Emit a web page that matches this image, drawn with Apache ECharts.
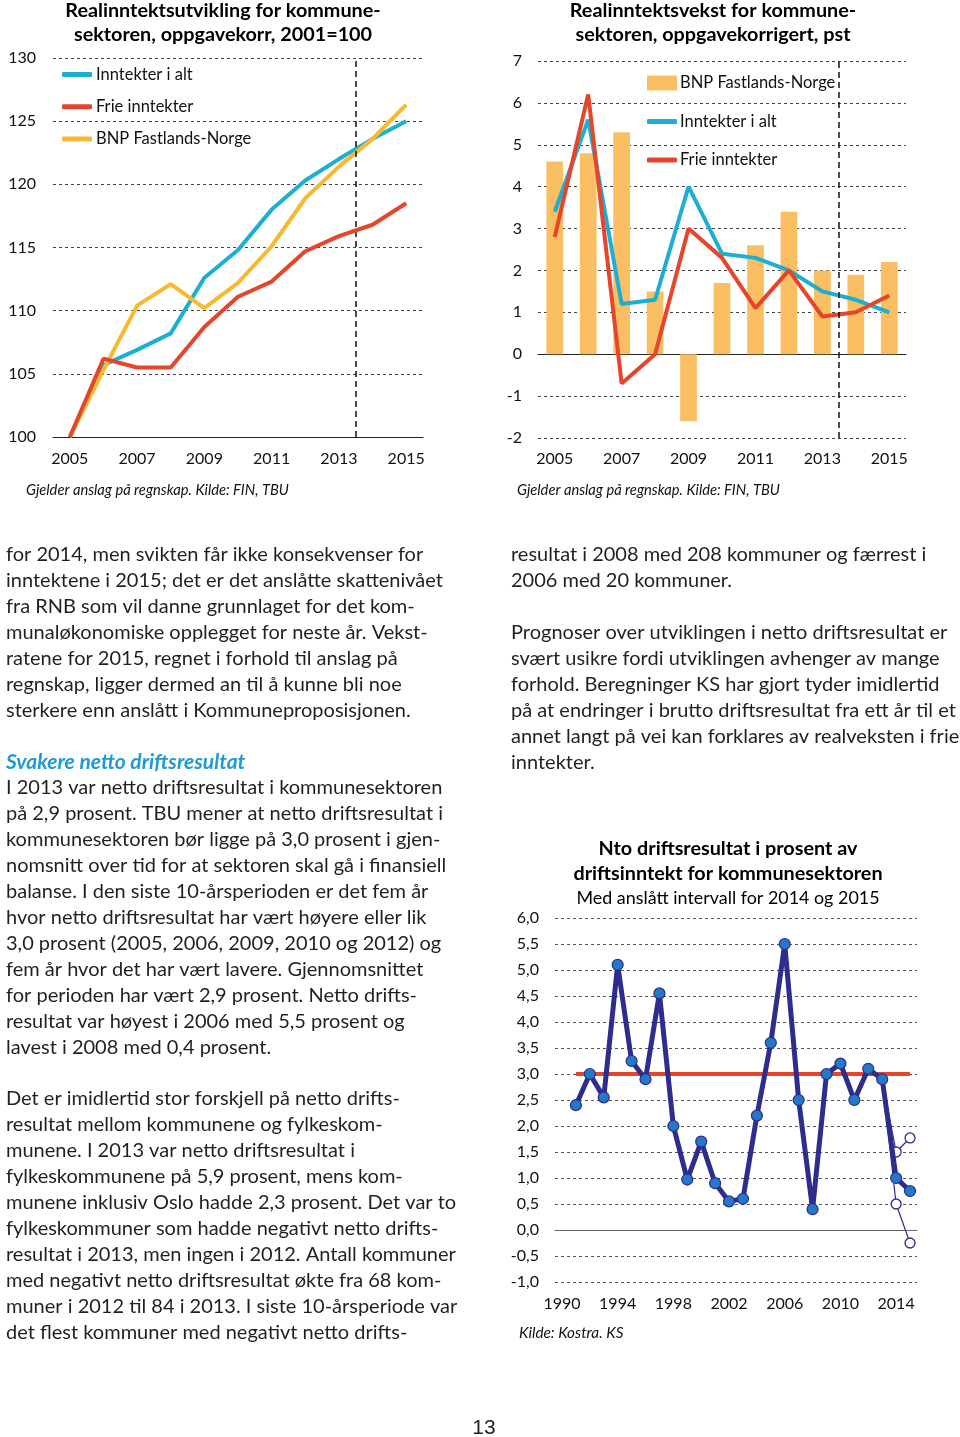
<!DOCTYPE html>
<html><head><meta charset="utf-8">
<script src="https://cdn.jsdelivr.net/npm/echarts@6/dist/echarts.min.js"></script>
<style>html,body{margin:0;padding:0;background:#fff}#c{width:960px;height:1437px}</style>
</head><body><div id="c"></div>
<script>
// ---------- DATA ----------
const years1 = ['2005','2006','2007','2008','2009','2010','2011','2012','2013','2014','2015'];
const inntekterIndex = [100, 105.7, 106.9, 108.2, 112.6, 114.8, 118.0, 120.3, 122.0, 123.6, 125.0];
const frieIndex      = [100, 106.2, 105.5, 105.5, 108.7, 111.1, 112.3, 114.7, 115.9, 116.8, 118.5];
const bnpIndex       = [100, 105.3, 110.4, 112.1, 110.2, 112.2, 115.1, 118.9, 121.4, 123.6, 126.3];

const bnpGrowth       = [4.6, 4.8, 5.3, 1.5, -1.6, 1.7, 2.6, 3.4, 2.0, 1.9, 2.2];
const inntekterGrowth = [3.4, 5.6, 1.2, 1.3, 4.0, 2.4, 2.3, 2.0, 1.5, 1.3, 1.0];
const frieGrowth      = [2.8, 6.2, -0.7, 0.0, 3.0, 2.3, 1.1, 2.0, 0.9, 1.0, 1.4];
const lastActualYear = '2013';

const years3 = ['1990','1991','1992','1993','1994','1995','1996','1997','1998','1999','2000','2001','2002',
  '2003','2004','2005','2006','2007','2008','2009','2010','2011','2012','2013','2014','2015'];
const nettoDrift = [null, 2.4, 3.0, 2.55, 5.1, 3.25, 2.9, 4.55, 2.0, 0.97, 1.7, 0.9, 0.55, 0.6, 2.2, 3.6, 5.5,
  2.5, 0.4, 3.0, 3.2, 2.5, 3.1, 2.9, 1.0, 0.75];
const intervallHoy = [null,null,null,null,null,null,null,null,null,null,null,null,null,null,null,null,null,
  null,null,null,null,null,null, 2.9, 1.5, 1.77];
const intervallLav = [null,null,null,null,null,null,null,null,null,null,null,null,null,null,null,null,null,
  null,null,null,null,null,null, 2.9, 0.5, -0.25];
const normNivaa = [null, 3,3,3,3,3,3,3,3,3,3,3,3,3,3,3,3,3,3,3,3,3,3,3,3,3];

const title1 = ['Realinntektsutvikling for kommune-', 'sektoren, oppgavekorr, 2001=100'];
const title2 = ['Realinntektsvekst for kommune-', 'sektoren, oppgavekorrigert, pst'];
const title3 = ['Nto driftsresultat i prosent av', 'driftsinntekt for kommunesektoren'];
const subtitle3 = 'Med anslått intervall for 2014 og 2015';
const source12 = 'Gjelder anslag på regnskap. Kilde: FIN, TBU';
const source3 = 'Kilde: Kostra. KS';

const leftPara1 = ['for 2014, men svikten får ikke konsekvenser for',
 'inntektene i 2015; det er det anslåtte skattenivået',
 'fra RNB som vil danne grunnlaget for det kom-',
 'munaløkonomiske opplegget for neste år. Vekst-',
 'ratene for 2015, regnet i forhold til anslag på',
 'regnskap, ligger dermed an til å kunne bli noe',
 'sterkere enn anslått i Kommuneproposisjonen.'];
const heading = 'Svakere netto driftsresultat';
const leftPara2 = ['I 2013 var netto driftsresultat i kommunesektoren',
 'på 2,9 prosent. TBU mener at netto driftsresultat i',
 'kommunesektoren bør ligge på 3,0 prosent i gjen-',
 'nomsnitt over tid for at sektoren skal gå i finansiell',
 'balanse. I den siste 10-årsperioden er det fem år',
 'hvor netto driftsresultat har vært høyere eller lik',
 '3,0 prosent (2005, 2006, 2009, 2010 og 2012) og',
 'fem år hvor det har vært lavere. Gjennomsnittet',
 'for perioden har vært 2,9 prosent. Netto drifts-',
 'resultat var høyest i 2006 med 5,5 prosent og',
 'lavest i 2008 med 0,4 prosent.'];
const leftPara3 = ['Det er imidlertid stor forskjell på netto drifts-',
 'resultat mellom kommunene og fylkeskom-',
 'munene. I 2013 var netto driftsresultat i',
 'fylkeskommunene på 5,9 prosent, mens kom-',
 'munene inklusiv Oslo hadde 2,3 prosent. Det var to',
 'fylkeskommuner som hadde negativt netto drifts-',
 'resultat i 2013, men ingen i 2012. Antall kommuner',
 'med negativt netto driftsresultat økte fra 68 kom-',
 'muner i 2012 til 84 i 2013. I siste 10-årsperiode var',
 'det flest kommuner med negativt netto drifts-'];
const rightPara1 = ['resultat i 2008 med 208 kommuner og færrest i', '2006 med 20 kommuner.'];
const rightPara2 = ['Prognoser over utviklingen i netto driftsresultat er',
 'svært usikre fordi utviklingen avhenger av mange',
 'forhold. Beregninger KS har gjort tyder imidlertid',
 'på at endringer i brutto driftsresultat fra ett år til et',
 'annet langt på vei kan forklares av realveksten i frie',
 'inntekter.'];
const pageNumber = '13';

// ---------- STYLE ----------
const FONT = 'Lato, "Noto Sans", sans-serif';
const C_BLUE = '#1DAFD2', C_RED = '#E5462B', C_YEL = '#F7B92F', C_BAR = '#FBBF63';
const C_NAVY = '#2E2C8C', C_MARK = '#2378C7';
const BODY = 20;
const split = {show:true, lineStyle:{type:[3,3], color:'#444', width:1}};
const noLine = {show:false};
const cut = years1.indexOf(lastActualYear) + 0.5;
const legText = {fontSize:16.5, color:'#111', fontFamily:FONT, padding:[0,0,0,-1]};

function txt(x, y, lines, opt) {
  return Object.assign({type:'text', x:x, y:y, style:Object.assign({
    text: lines.join('\n'), fontFamily: FONT, fontSize: BODY, lineHeight: 26, fill:'#231F20',
    verticalAlign:'top', align:'left'}, opt || {})});
}

const chart = echarts.init(document.getElementById('c'), null, {renderer:'canvas'});
chart.setOption({
  backgroundColor:'#fff',
  animation:false,
  textStyle:{fontFamily:FONT},
  grid:[
    {left:53, top:58, width:370, height:379},
    {left:538, top:61, width:368, height:377},
    {left:555, top:918, width:362, height:364}
  ],
  xAxis:[
    {type:'category', gridIndex:0, data:years1, boundaryGap:true,
     axisLine:{lineStyle:{color:'#222'}}, axisTick:{interval:0, length:6, lineStyle:{color:'#222'}},
     axisLabel:{interval:1, margin:14, fontSize:16, color:'#111', fontFamily:FONT}},
    {type:'value', gridIndex:0, min:-0.5, max:10.5, show:false},
    {type:'category', gridIndex:1, data:years1, boundaryGap:true,
     axisLine:{onZero:true, lineStyle:{color:'#222'}}, axisTick:{interval:0, length:6, lineStyle:{color:'#222'}},
     axisLabel:{show:false}},
    {type:'category', gridIndex:1, data:years1, boundaryGap:true, position:'bottom',
     axisLine:{show:false, onZero:false}, axisTick:{show:false},
     axisLabel:{interval:1, margin:13, fontSize:16, color:'#111', fontFamily:FONT}},
    {type:'value', gridIndex:1, min:-0.5, max:10.5, show:false},
    {type:'category', gridIndex:2, data:years3, boundaryGap:true,
     axisLine:{onZero:true, lineStyle:{color:'#666'}}, axisTick:{interval:0, length:5, lineStyle:{color:'#666'}},
     axisLabel:{show:false}},
    {type:'category', gridIndex:2, data:years3, boundaryGap:true, position:'bottom',
     axisLine:{show:false, onZero:false}, axisTick:{show:false},
     axisLabel:{interval:3, margin:14, fontSize:16, color:'#111', fontFamily:FONT}}
  ],
  yAxis:[
    {type:'value', gridIndex:0, min:100, max:130, interval:5, axisLine:noLine, axisTick:noLine,
     splitLine:split, axisLabel:{margin:17, fontSize:16, color:'#111', fontFamily:FONT}},
    {type:'value', gridIndex:1, min:-2, max:7, interval:1, axisLine:noLine, axisTick:noLine,
     splitLine:split, axisLabel:{margin:16, fontSize:16, color:'#111', fontFamily:FONT}},
    {type:'value', gridIndex:2, min:-1, max:6, interval:0.5, axisLine:noLine, axisTick:noLine,
     splitLine:{show:true, lineStyle:{type:[3,3], color:'#555', width:1}},
     axisLabel:{margin:16, fontSize:16, color:'#111', fontFamily:FONT,
       formatter:v => v.toFixed(1).replace('.', ',')}}
  ],
  legend:[
    {left:62, top:66, padding:0, orient:'vertical', itemWidth:30, itemHeight:5, itemGap:15.3, icon:'roundRect',
     textStyle:legText,
     data:[{name:'Inntekter i alt', itemStyle:{color:C_BLUE}},
           {name:'Frie inntekter', itemStyle:{color:C_RED}},
           {name:'BNP Fastlands-Norge', itemStyle:{color:C_YEL}}]},
    {left:647, top:74.5, padding:0, itemWidth:30, itemHeight:15, icon:'rect',
     textStyle:Object.assign({}, legText, {padding:[0,0,0,-2]}),
     data:[{name:'BNP Fastlands-Norge', itemStyle:{color:C_BAR}}]},
    {left:647, top:113, padding:0, orient:'vertical', itemWidth:30, itemHeight:5, itemGap:21.5, icon:'roundRect',
     textStyle:Object.assign({}, legText, {padding:[0,0,0,-2]}),
     data:[{name:'Inntekter i alt', itemStyle:{color:C_BLUE}},
           {name:'Frie inntekter', itemStyle:{color:C_RED}}]}
  ],
  series:[
    {name:'Inntekter i alt', type:'line', xAxisIndex:0, yAxisIndex:0, data:inntekterIndex, showSymbol:false,
     lineStyle:{width:4, color:C_BLUE}, itemStyle:{color:C_BLUE}, z:3},
    {name:'BNP Fastlands-Norge', type:'line', xAxisIndex:0, yAxisIndex:0, data:bnpIndex, showSymbol:false,
     lineStyle:{width:4, color:C_YEL}, itemStyle:{color:C_YEL}, z:4},
    {name:'Frie inntekter', type:'line', xAxisIndex:0, yAxisIndex:0, data:frieIndex, showSymbol:false,
     lineStyle:{width:4, color:C_RED}, itemStyle:{color:C_RED}, z:5},
    {type:'line', xAxisIndex:1, yAxisIndex:0, data:[], silent:true,
     markLine:{symbol:'none', silent:true, label:{show:false}, lineStyle:{type:[6,4], color:'#111', width:1.5},
       data:[{xAxis:cut}]}},

    {name:'BNP Fastlands-Norge', type:'bar', xAxisIndex:2, yAxisIndex:1, data:bnpGrowth, barWidth:'50%',
     itemStyle:{color:C_BAR}},
    {name:'Inntekter i alt', type:'line', xAxisIndex:2, yAxisIndex:1, data:inntekterGrowth, showSymbol:false,
     lineStyle:{width:4, color:C_BLUE}, itemStyle:{color:C_BLUE}, z:3},
    {name:'Frie inntekter', type:'line', xAxisIndex:2, yAxisIndex:1, data:frieGrowth, showSymbol:false,
     lineStyle:{width:4, color:C_RED}, itemStyle:{color:C_RED}, z:4},
    {type:'line', xAxisIndex:4, yAxisIndex:1, data:[], silent:true,
     markLine:{symbol:'none', silent:true, label:{show:false}, lineStyle:{type:[6,4], color:'#111', width:1.5},
       data:[{xAxis:cut}]}},

    {name:'Norm', type:'line', xAxisIndex:5, yAxisIndex:2, data:normNivaa, showSymbol:false,
     lineStyle:{width:4, color:C_RED}, z:2},
    {name:'Høy', type:'line', xAxisIndex:5, yAxisIndex:2,
     data:intervallHoy.map((v,i)=> i===23 ? {value:v, symbol:'none'} : v),
     symbol:'circle', symbolSize:10, showSymbol:true, showAllSymbol:true, lineStyle:{width:1.2, color:C_NAVY},
     itemStyle:{color:'#fff', borderColor:C_NAVY, borderWidth:1.3}, z:3},
    {name:'Lav', type:'line', xAxisIndex:5, yAxisIndex:2,
     data:intervallLav.map((v,i)=> i===23 ? {value:v, symbol:'none'} : v),
     symbol:'circle', symbolSize:10, showSymbol:true, showAllSymbol:true, lineStyle:{width:1.2, color:C_NAVY},
     itemStyle:{color:'#fff', borderColor:C_NAVY, borderWidth:1.3}, z:3},
    {name:'Netto driftsresultat', type:'line', xAxisIndex:5, yAxisIndex:2, data:nettoDrift,
     symbol:'circle', symbolSize:11, showAllSymbol:true, lineStyle:{width:5, color:C_NAVY},
     itemStyle:{color:C_MARK, borderColor:C_NAVY, borderWidth:1.2}, z:4}
  ],
  graphic:[
    txt(223, -1, title1, {align:'center', fontWeight:'bold', fontSize:19.8, lineHeight:24, fill:'#000'}),
    txt(713, -1, title2, {align:'center', fontWeight:'bold', fontSize:19.8, lineHeight:24, fill:'#000'}),
    txt(728, 836, title3, {align:'center', fontWeight:'bold', fontSize:19.8, lineHeight:25, fill:'#000'}),
    txt(728, 886, [subtitle3], {align:'center', fontSize:17.9, lineHeight:25, fill:'#000'}),
    txt(26, 481, [source12], {fontStyle:'italic', fontSize:14.7, lineHeight:18, fill:'#111'}),
    txt(517, 481, [source12], {fontStyle:'italic', fontSize:14.7, lineHeight:18, fill:'#111'}),
    txt(519, 1324, [source3], {fontStyle:'italic', fontSize:15.3, lineHeight:18, fill:'#111'}),
    txt(6, 542, leftPara1),
    txt(6, 749, [heading], {fontWeight:'bold', fontStyle:'italic', fontSize:21, fill:'#1E9AD6'}),
    txt(6, 775, leftPara2),
    txt(6, 1086, leftPara3),
    txt(511, 542, rightPara1),
    txt(511, 620, rightPara2),
    txt(484, 1416, [pageNumber], {align:'center', fontFamily:'"Liberation Sans", Arial, sans-serif', fontSize:21, lineHeight:24, fill:'#222'})
  ]
});
</script></body></html>
